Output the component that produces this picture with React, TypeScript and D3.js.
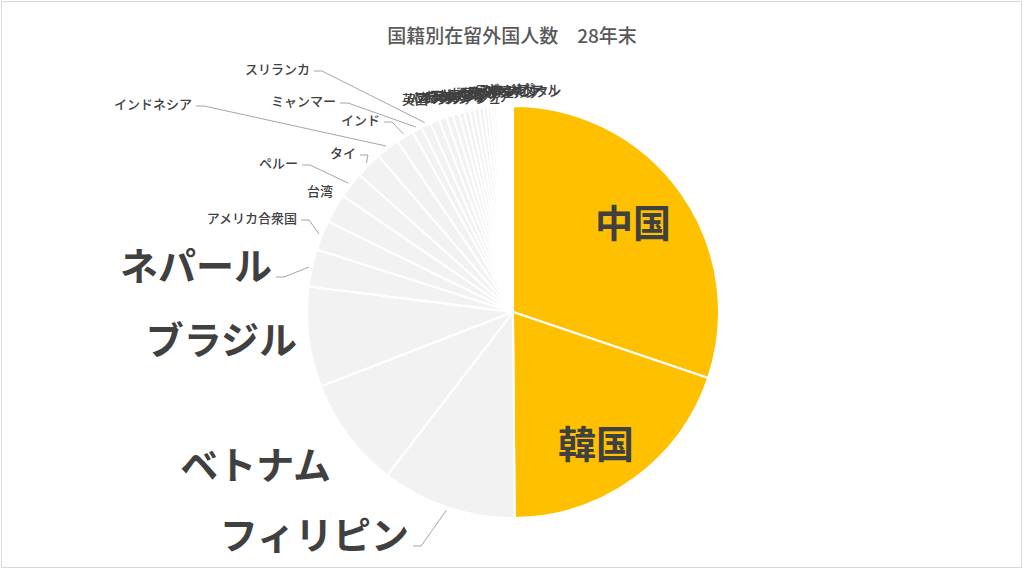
import React from "react";
import * as d3 from "d3";

// ---- data (在留外国人数 28年末) ----
const countries: string[] = [
  "中国", "韓国", "フィリピン", "ベトナム", "ブラジル", "ネパール", "アメリカ合衆国", "台湾",
  "ペルー", "タイ", "インドネシア", "インド", "ミャンマー", "スリランカ",
  "英国", "パキスタン", "バングラデシュ", "フランス", "カナダ", "オーストラリア", "マレーシア",
  "モンゴル", "ロシア", "カンボジア", "ドイツ", "トルコ", "ボリビア", "イラン", "イタリア",
  "アルゼンチン", "ナイジェリア", "スペイン", "ウズベキスタン", "ラオス", "コロンビア",
  "シンガポール", "ガーナ", "エジプト",
];
const residents: number[] = [
  695522, 453096, 243662, 199990, 180923, 67470, 53705, 52768,
  47740, 47647, 42850, 31689, 17775, 17346,
  16454, 13752, 12374, 11216, 9701, 9547, 8738,
  8626, 8092, 7014, 6235, 5000, 5000, 3977, 3100,
  2900, 2800, 2700, 2600, 2600, 2300,
  2300, 2300, 1900,
];
const highlighted: string[] = ["中国", "韓国"];
const bigLabels: string[] = ["中国", "韓国", "フィリピン", "ベトナム", "ブラジル", "ネパール"];
const titleText = "国籍別在留外国人数　28年末";

// ---- layout (label placement, not data) ----
const W = 1024;
const H = 570;
const CX = 513;
const CY = 312;
const R = 206;

type LabelPos = { x: number; y: number; anchor: "start" | "middle" | "end"; leader?: boolean };
const labelLayout: Record<string, LabelPos> = {
  "中国": { x: 633, y: 220, anchor: "middle" },
  "韓国": { x: 596, y: 441, anchor: "middle" },
  "フィリピン": { x: 409, y: 532, anchor: "end", leader: true },
  "ベトナム": { x: 331, y: 462, anchor: "end" },
  "ブラジル": { x: 297, y: 337, anchor: "end" },
  "ネパール": { x: 272, y: 263, anchor: "end", leader: true },
  "アメリカ合衆国": { x: 297, y: 217, anchor: "end", leader: true },
  "台湾": { x: 333, y: 190, anchor: "end" },
  "ペルー": { x: 298, y: 162, anchor: "end", leader: true },
  "タイ": { x: 356, y: 152, anchor: "end", leader: true },
  "インドネシア": { x: 192, y: 103, anchor: "end", leader: true },
  "インド": { x: 380, y: 119, anchor: "end", leader: true },
  "ミャンマー": { x: 336, y: 100, anchor: "end", leader: true },
  "スリランカ": { x: 310, y: 68, anchor: "end", leader: true },
};

const GOLD = "#FFC000";
const GREY = "#F2F2F2";
const TEXT = "#404040";
const LEADER = "#A6A6A6";
const FONT = "'Noto Sans CJK JP', 'Noto Sans', sans-serif";

export default function App() {
  const data = countries.map((c, i) => ({ name: c, value: residents[i] }));
  const pie = d3
    .pie<{ name: string; value: number }>()
    .sort(null)
    .value((d) => d.value)
    .startAngle(0)
    .endAngle(2 * Math.PI);
  const arcs = pie(data);
  const arc = d3.arc<d3.PieArcDatum<{ name: string; value: number }>>().innerRadius(0).outerRadius(R);
  const edgePt = (a: d3.PieArcDatum<any>, rr: number): [number, number] => {
    const m = (a.startAngle + a.endAngle) / 2;
    return [CX + rr * Math.sin(m), CY - rr * Math.cos(m)];
  };

  const smallArcs = arcs.filter((a) => !labelLayout[a.data.name]);
  const n = smallArcs.length;

  return (
    <div style={{ position: "absolute", left: 0, top: 0 }}>
      <svg width={W} height={H} style={{ display: "block", fontFamily: FONT }}>
        <rect x={0} y={0} width={W} height={H} fill="#fff" />
        <rect x={1.5} y={1.5} width={W - 4} height={H - 4} fill="none" stroke="#D9D9D9" strokeWidth={1} />
        <text x={512} y={34} textAnchor="middle" dominantBaseline="central" fontSize={19} fontWeight={500} fill="#595959">
          {titleText}
        </text>
        <g transform={`translate(${CX},${CY})`}>
          {arcs.map((a) => (
            <path
              key={a.data.name}
              d={arc(a) || ""}
              fill={highlighted.includes(a.data.name) ? GOLD : GREY}
              stroke="#fff"
              strokeWidth={2}
              strokeLinejoin="round"
            />
          ))}
        </g>
        {/* leader lines */}
        {arcs.map((a) => {
          const lp = labelLayout[a.data.name];
          if (!lp || !lp.leader) return null;
          const [ex, ey] = edgePt(a, R + 3);
          const big = bigLabels.includes(a.data.name);
          const sx = lp.x + 4;
          const sy = lp.y + (big ? 14 : 3);
          const pts = [
            [sx, sy],
            [sx + 8, sy],
            [ex, ey],
          ];
          return (
            <polyline
              key={"l" + a.data.name}
              points={pts.map((p) => p.join(",")).join(" ")}
              fill="none"
              stroke={LEADER}
              strokeWidth={1}
            />
          );
        })}
        {/* labels */}
        {arcs.map((a) => {
          const lp = labelLayout[a.data.name];
          if (!lp) return null;
          const big = bigLabels.includes(a.data.name);
          return (
            <text
              key={"t" + a.data.name}
              x={lp.x}
              y={lp.y}
              textAnchor={lp.anchor}
              dominantBaseline="central"
              fontSize={big ? 38 : 13}
              fontWeight={big ? 700 : 500}
              fill={TEXT}
            >
              {a.data.name}
            </text>
          );
        })}
        {/* crowded labels of the smallest slices (overlapping, as in the original) */}
        {smallArcs.map((a, i) => (
          <text
            key={"s" + a.data.name}
            x={402 + (i * 88) / (n - 1)}
            y={98 - (i * 10) / (n - 1)}
            dominantBaseline="central"
            fontSize={13}
            fontWeight={500}
            fill={TEXT}
          >
            {a.data.name}
          </text>
        ))}
      </svg>
    </div>
  );
}
